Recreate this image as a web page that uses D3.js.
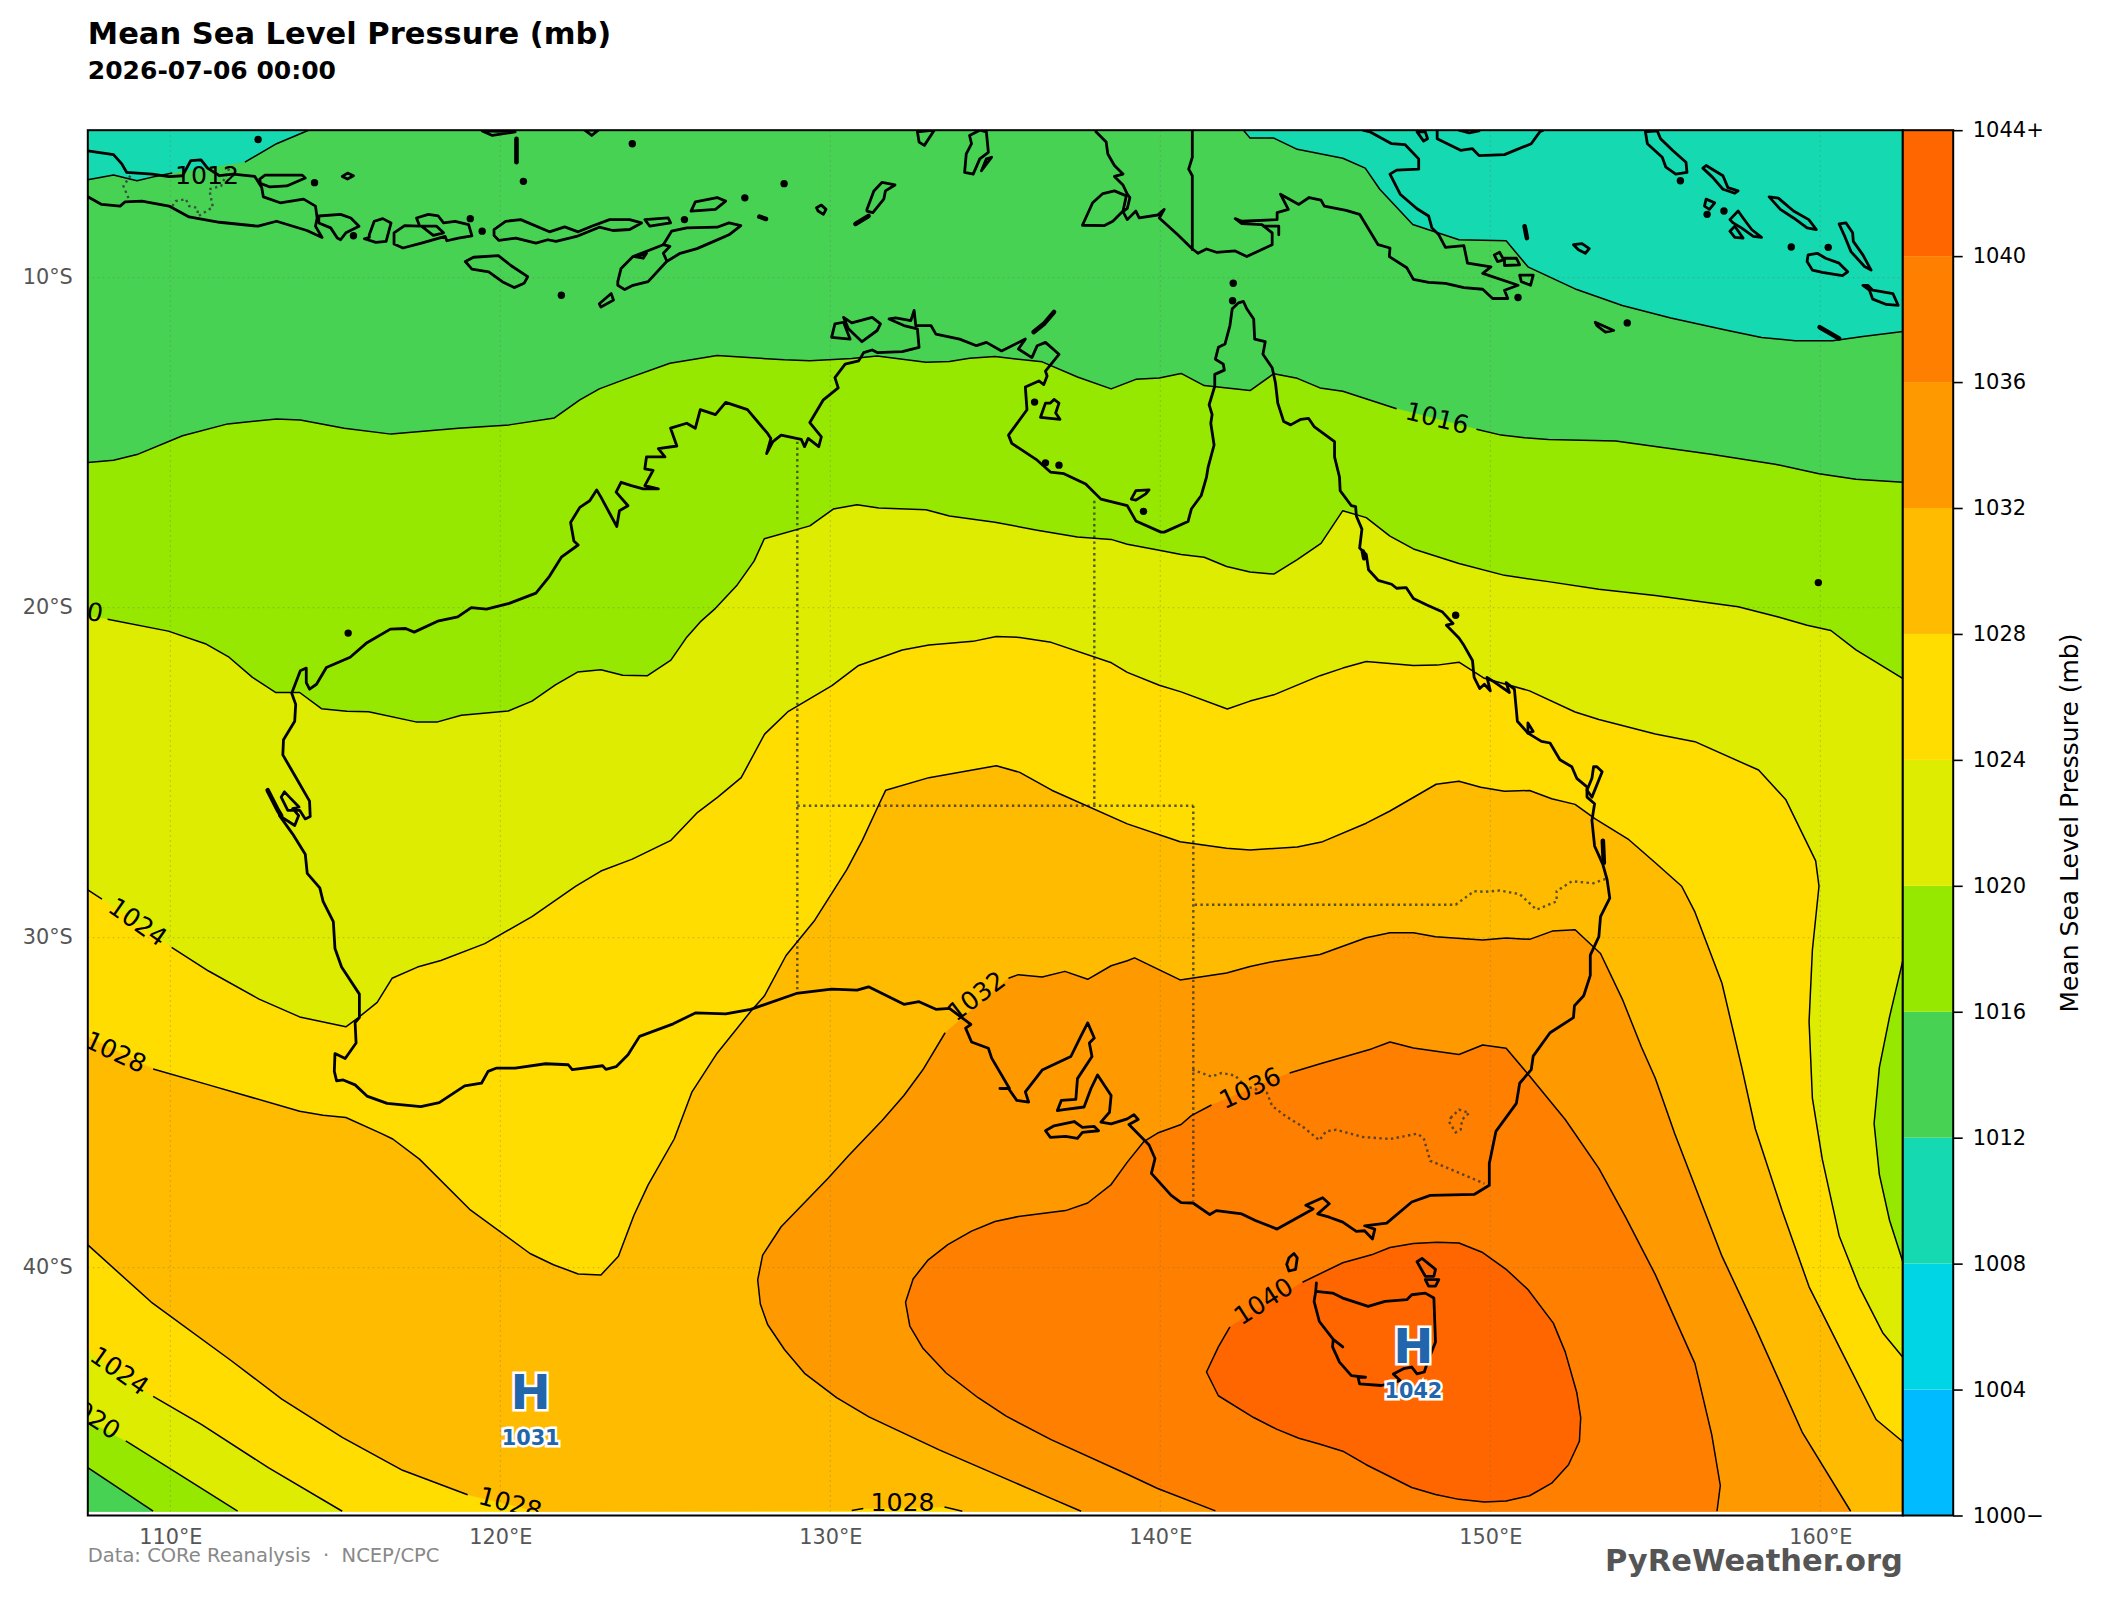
<!DOCTYPE html>
<html><head><meta charset="utf-8">
<script src="https://cdn.jsdelivr.net/npm/d3@7/dist/d3.min.js"></script>
<style>html,body{margin:0;padding:0;background:#fff}svg{display:block}text{font-family:"DejaVu Sans",sans-serif}</style>
</head><body><div id="chart"></div>
<script>
// ---------- colour bar ----------
const levels=[1000,1004,1008,1012,1016,1020,1024,1028,1032,1036,1040,1044];
const bandColors=["#00BBFF","#00D5E5","#15D9B0","#48D254","#96E800","#DDEC00","#FFDD00","#FFBB00","#FF9900","#FF7F00","#FF6600"];
const lonTicks=[110,120,130,140,150,160];
const latTicks=[-10,-20,-30,-40];
// ---------- isobars (lon,lat) ----------
const iso1012w1=[[107.5,-7.03],[108.28,-6.89],[108.99,-7.06],[109.55,-6.93],[110.06,-6.83]];
const iso1012w2=[[112.26,-6.50],[113.22,-5.94],[114.19,-5.53]];
const iso1012e=[[142.52,-5.53],[142.72,-5.77],[143.44,-5.77],[144.15,-6.11],[145.53,-6.38],[146.21,-6.68],[146.65,-7.32],[147.65,-8.39],[149.05,-8.85],[150.48,-8.88],[151.14,-9.67],[152.62,-10.36],[154.0,-10.84],[155.47,-11.22],[157.2,-11.60],[158.22,-11.81],[159.24,-11.91],[160.37,-11.91],[161.29,-11.78],[162.51,-11.63]];
const iso1016n1=[[107.5,-15.60],[108.28,-15.53],[108.99,-15.36],[110.37,-14.79],[111.74,-14.43],[113.22,-14.28],[113.94,-14.31],[115.27,-14.56],[116.69,-14.74],[118.73,-14.56],[120.27,-14.46],[121.64,-14.25],[122.41,-13.70],[123.0,-13.37],[123.77,-13.08],[125.14,-12.59],[126.57,-12.36],[128.61,-12.49],[129.38,-12.52],[130.65,-12.45],[131.42,-12.37],[132.9,-12.56],[133.61,-12.54],[134.22,-12.44],[134.99,-12.39],[136.42,-12.55],[137.49,-13.01],[138.51,-13.37],[139.26,-13.08],[139.97,-13.04],[140.63,-12.90],[141.33,-13.27],[142.72,-13.42],[143.44,-12.91],[144.15,-13.05],[144.84,-13.34],[145.53,-13.44],[147.16,-13.97]];
const iso1016n2=[[149.58,-14.59],[150.33,-14.77],[151.04,-14.85],[151.76,-14.90],[153.80,-14.95],[156.69,-15.35],[158.63,-15.65],[159.96,-15.94],[161.08,-16.11],[162.51,-16.20]];
const iso1016e=[[162.52,-30.61],[162.10,-32.39],[161.79,-33.93],[161.63,-35.63],[161.79,-37.18],[162.10,-38.57],[162.52,-39.88]];
const iso1016sw=[[107.5,-46.06],[109.48,-47.38]];
const iso1020n=[[108.10,-20.35],[109.94,-20.71],[111.06,-21.09],[111.78,-21.50],[112.49,-22.11],[113.20,-22.57],[113.92,-22.57],[114.58,-23.06],[115.35,-23.14],[116.01,-23.15],[117.44,-23.46],[118.10,-23.46],[118.82,-23.26],[120.24,-23.13],[120.96,-22.83],[121.67,-22.34],[122.34,-21.95],[123.05,-21.88],[123.71,-22.05],[124.46,-22.06],[125.17,-21.59],[125.63,-20.92],[126.06,-20.43],[126.52,-20.02],[127.18,-19.31],[127.69,-18.59],[128.0,-17.91],[129.38,-17.52],[130.09,-17.01],[130.81,-16.88],[131.47,-16.98],[132.90,-17.03],[133.61,-17.22],[134.99,-17.41],[136.27,-17.65],[137.49,-17.86],[138.51,-17.93],[139,-18.08],[139.97,-18.26],[140.63,-18.39],[141.33,-18.47],[142.01,-18.75],[142.72,-18.92],[143.44,-18.98],[144.15,-18.54],[144.87,-18.05],[145.53,-17.06],[146.24,-17.27],[146.96,-17.83],[147.67,-18.22],[149.05,-18.66],[150.43,-19.02],[151.76,-19.21],[153.29,-19.44],[155.0,-19.63],[157.51,-19.97],[158.73,-20.28],[159.60,-20.53],[160.32,-20.69],[161.08,-21.28],[162.52,-22.16]];
const iso1020sw=[[108.65,-45.25],[110.33,-46.30],[112.04,-47.38]];
const iso1024a=[[107.5,-28.55],[107.93,-28.83]];
const iso1024n=[[110.04,-30.29],[111.16,-31.01],[112.69,-31.86],[113.92,-32.40],[115.32,-32.70],[115.70,-32.42],[116.27,-31.96],[116.72,-31.23],[117.49,-30.89],[118.20,-30.69],[119.53,-30.18],[120.96,-29.36],[122.29,-28.44],[123.05,-27.98],[124,-27.62],[125.17,-27.05],[125.98,-26.20],[126.59,-25.74],[127.30,-25.15],[128.01,-23.83],[128.73,-23.14],[130.05,-22.36],[130.86,-21.75],[132.18,-21.28],[132.99,-21.13],[134.32,-21.02],[135.03,-20.87],[135.74,-20.90],[136.69,-21.05],[138.52,-21.67],[139,-21.96],[139.97,-22.35],[140.63,-22.55],[142.03,-23.07],[142.72,-22.83],[143.44,-22.64],[144.84,-22.06],[145.53,-21.83],[146.24,-21.63],[147.67,-21.75],[148.39,-21.74],[149.05,-21.65],[149.82,-22.14],[151.19,-22.52],[152.57,-23.16],[153.29,-23.39],[155,-23.83],[156.2,-24.06],[158.13,-24.92],[158.95,-25.81],[159.86,-27.67],[159.96,-28.44],[159.76,-30.38],[159.66,-32.54],[159.76,-34.86],[160.06,-36.71],[160.57,-39.03],[161.18,-40.58],[161.89,-41.97],[162.52,-42.74]];
const iso1024sw=[[109.48,-43.90],[110.94,-44.75],[112.97,-46.06],[115.21,-47.38]];
const iso1028n=[[109.48,-33.98],[111.16,-34.46],[113.92,-35.26],[114.63,-35.38],[115.32,-35.45],[116.37,-35.92],[116.74,-36.10],[117.55,-36.71],[119.07,-38.23],[120.9,-39.57],[121.61,-39.91],[122.36,-40.19],[123.05,-40.22],[123.58,-39.65],[124.05,-38.41],[124.48,-37.49],[125.27,-36.10],[125.81,-34.67],[126.57,-33.50],[127.59,-32.23],[128,-31.77],[128.66,-30.54],[129.53,-29.47],[130.5,-27.94],[130.97,-27.05],[131.47,-25.97],[131.68,-25.53],[132.99,-25.15],[135.03,-24.79],[135.74,-24.99],[136.71,-25.53],[139,-26.55],[140.60,-27.09],[142.01,-27.29],[142.72,-27.34],[144.15,-27.25],[144.92,-27.09],[146.24,-26.53],[146.96,-26.16],[148.36,-25.35],[149.05,-25.26],[149.71,-25.44],[150.43,-25.56],[151.19,-25.54],[151.86,-25.79],[152.57,-25.96],[153.18,-26.40],[154.2,-27.03],[155,-27.73],[155.8,-28.44],[156.2,-29.22],[157.02,-31.38],[157.62,-33.93],[158.03,-35.79],[158.84,-38.26],[159.66,-40.58],[160.67,-42.59],[161.69,-44.60],[162.52,-45.29]];
const iso1028sw=[[107.5,-39.31],[109.42,-41.04],[111.85,-42.82],[113.38,-43.98],[115.21,-45.14],[117.04,-46.14],[119.01,-46.88]];
const iso1028b1=[[130.65,-47.36],[131,-47.30]];
const iso1028b2=[[133.46,-47.25],[134,-47.38]];
const iso1032e=[[135.4,-31.23],[135.70,-31.12],[136.42,-31.19],[137.11,-31.02],[137.80,-31.26],[138.51,-30.85],[139,-30.70],[139.22,-30.61],[140.60,-31.28],[142.01,-31.07],[142.72,-30.87],[143.44,-30.72],[144.84,-30.51],[146.24,-30.0],[146.96,-29.85],[147.67,-29.85],[148.34,-29.97],[149.77,-30.07],[150.48,-30.01],[151.19,-30.05],[151.88,-29.80],[152.57,-29.76],[153.34,-30.48],[154,-31.86],[154.58,-33.31],[155,-34.26],[155.59,-35.94],[157.02,-39.65],[158.03,-41.81],[159.45,-44.98],[160.92,-47.38]];
const iso1032w=[[133.48,-32.88],[132.80,-34.01],[132.23,-34.78],[131.57,-35.54],[130.55,-36.61],[129.94,-37.28],[128.51,-38.76],[127.95,-39.62],[127.80,-40.37],[127.88,-41.10],[128.10,-41.72],[128.61,-42.48],[129.22,-43.20],[130.19,-43.94],[131.17,-44.52],[133.30,-45.52],[136.69,-46.99],[137.6,-47.38]];
const iso1036e=[[143.92,-34.10],[144.82,-33.83],[146.40,-33.37],[146.96,-33.16],[147.67,-33.34],[149.05,-33.54],[149.77,-33.25],[150.48,-33.35],[151.14,-34.13],[152.27,-35.51],[153.29,-36.99],[154.10,-38.47],[155,-40.21],[156.2,-42.90],[156.71,-45.06],[156.97,-46.60],[156.87,-47.38]];
const iso1036w=[[141.55,-35.07],[140.94,-35.39],[140.63,-35.66],[139.92,-35.92],[139.51,-36.17],[139,-36.80],[138.51,-37.48],[137.80,-38.04],[137.13,-38.27],[135.70,-38.45],[134.99,-38.60],[134.28,-38.89],[133.56,-39.30],[132.95,-39.78],[132.51,-40.34],[132.28,-41.05],[132.41,-41.77],[132.80,-42.43],[133.51,-43.19],[134.48,-43.94],[135.33,-44.50],[136.69,-45.21],[139,-46.26],[139.92,-46.69],[141.67,-47.37]];
const iso1040=[[144.31,-40.44],[145.53,-39.85],[146.40,-39.61],[146.96,-39.39],[147.67,-39.27],[148.39,-39.23],[149.05,-39.25],[149.77,-39.54],[150.48,-40.05],[151.14,-40.66],[151.91,-41.68],[152.27,-42.55],[152.62,-43.78],[152.74,-44.54],[152.70,-45.26],[152.37,-45.97],[151.86,-46.53],[151.19,-46.91],[150.48,-47.07],[149.82,-47.10],[149.05,-47.02],[148.34,-46.87],[147.62,-46.66],[146.24,-45.97],[145.53,-45.56],[144.82,-45.34],[144.20,-45.17],[143.54,-44.90],[142.83,-44.54],[141.76,-43.88],[141.40,-43.16],[141.76,-42.40],[142.11,-41.79]];
// ---------- isobar labels: lon, lat, rotation, text ----------
const isoLabels=[[111.11,-6.91,0,"1012"],[148.39,-14.26,14,"1016"],[107.0,-20.02,10,"1020"],[109.01,-29.53,35,"1024"],[108.34,-33.47,25,"1028"],[108.46,-43.13,35,"1024"],[107.59,-44.49,33,"1020"],[120.3,-47.15,15,"1028"],[132.19,-47.1,0,"1028"],[134.43,-31.77,-37,"1032"],[142.72,-34.56,-25,"1036"],[143.13,-41.02,-33,"1040"]];
// ---------- high centres ----------
const highLon=[120.92,147.67],highLat=[-43.77,-42.37],highValue=[1031,1042];
// ---------- coast ----------
const australia=[[140.12,-17.71],[140.84,-17.39],[140.94,-17.01],[141.24,-16.60],[141.40,-16.04],[141.45,-15.74],[141.63,-15.07],[141.53,-14.41],[141.57,-14.15],[141.48,-13.85],[141.65,-13.29],[141.65,-12.93],[141.94,-12.80],[141.91,-12.62],[141.67,-12.47],[141.76,-12.11],[141.96,-12.01],[142.11,-11.45],[142.18,-10.94],[142.37,-10.76],[142.52,-10.72],[142.62,-10.94],[142.83,-11.25],[142.86,-11.86],[143.18,-11.94],[143.11,-12.32],[143.39,-12.73],[143.49,-13.19],[143.56,-13.80],[143.74,-14.36],[143.95,-14.46],[144.26,-14.29],[144.49,-14.26],[144.66,-14.51],[145.28,-14.97],[145.28,-15.43],[145.43,-16.04],[145.45,-16.45],[145.79,-16.91],[145.92,-16.94],[145.94,-17.22],[146.11,-17.62],[146.04,-18.19],[146.24,-18.39],[146.31,-18.85],[146.60,-19.17],[147.01,-19.29],[147.16,-19.41],[147.45,-19.39],[147.67,-19.72],[148.08,-19.92],[148.54,-20.12],[148.87,-20.48],[148.67,-20.53],[149.05,-20.92],[149.20,-21.14],[149.46,-21.60],[149.51,-22.11],[149.68,-22.45],[149.82,-22.32],[150,-22.52],[149.90,-22.11],[150.07,-22.22],[150.58,-22.57],[150.48,-22.27],[150.73,-22.47],[150.82,-23.44],[151.14,-23.80],[151.55,-24.05],[151.81,-24.10],[152.11,-24.61],[152.47,-24.82],[152.62,-25.17],[152.93,-25.43],[152.93,-25.74],[153.16,-25.94],[153.08,-26.45],[153.16,-27.22],[153.41,-27.78],[153.54,-28.24],[153.62,-28.80],[153.34,-29.36],[153.29,-29.97],[153.03,-30.53],[153.03,-31.14],[152.83,-31.76],[152.55,-32.06],[152.52,-32.42],[151.81,-32.88],[151.30,-33.59],[151.24,-34.0],[150.89,-34.41],[150.79,-35.02],[150.17,-35.87],[149.97,-36.84],[149.97,-37.50],[149.51,-37.78],[148.18,-37.81],[147.62,-38.01],[146.86,-38.65],[146.19,-38.73],[146.5,-38.83],[146.43,-39.13],[146.19,-38.88],[145.94,-38.90],[145.53,-38.62],[145.12,-38.47],[144.77,-38.37],[145.12,-38.06],[144.92,-37.88],[144.41,-38.11],[144.63,-38.22],[143.54,-38.83],[142.88,-38.57],[142.47,-38.37],[141.70,-38.27],[141.5,-38.39],[140.99,-38.04],[140.63,-38.03],[140.33,-37.81],[139.73,-37.14],[139.84,-36.69],[139.66,-36.28],[139.05,-35.66],[139.33,-35.51],[139.2,-35.36],[139,-35.49],[138.51,-35.64],[138.20,-35.59],[138.46,-35.29],[138.51,-34.78],[138.10,-34.16],[137.90,-34.57],[137.69,-35.13],[137.08,-35.21],[136.88,-35.24],[137.0,-34.93],[137.44,-34.90],[137.49,-34.27],[137.93,-33.60],[137.85,-33.19],[138,-33.04],[137.80,-32.58],[137.59,-32.99],[137.29,-33.60],[136.42,-34.01],[135.91,-34.67],[136.01,-34.98],[135.65,-34.93],[135.40,-34.57],[135.14,-34.57],[135.43,-34.57],[134.89,-33.65],[134.79,-33.35],[134.28,-33.16],[134.10,-32.74],[134.26,-32.63],[133.61,-32.14],[133.20,-32.17],[132.69,-31.94],[132.23,-32.02],[131.16,-31.49],[130.81,-31.59],[130.04,-31.56],[128.97,-31.69],[127.59,-32.17],[126.83,-32.31],[125.91,-32.28],[125.24,-32.61],[124.22,-32.99],[123.87,-33.55],[123.51,-33.91],[123.20,-33.99],[123.10,-33.88],[122.18,-34.0],[122.06,-33.85],[121.37,-33.82],[120.45,-33.95],[119.89,-33.95],[119.63,-34.05],[119.43,-34.41],[118.92,-34.49],[118.15,-35.0],[117.59,-35.12],[116.57,-35.02],[115.96,-34.80],[115.60,-34.46],[115.24,-34.31],[115.04,-34.34],[114.97,-34.05],[114.99,-33.51],[115.30,-33.66],[115.63,-33.19],[115.60,-32.57],[115.73,-32.42],[115.73,-31.71],[115.19,-30.89],[114.99,-30.33],[114.94,-29.51],[114.63,-28.90],[114.53,-28.49],[114.15,-28.05],[114.09,-27.47],[113.71,-26.86],[113.31,-26.30],[113.77,-26.60],[113.89,-26.30],[113.71,-26.09],[113.90,-26.04],[113.61,-25.74],[113.46,-25.58],[113.36,-25.74],[113.56,-26.14],[113.92,-26.14],[114.09,-26.40],[114.24,-26.33],[114.22,-25.86],[113.82,-25.17],[113.41,-24.46],[113.43,-24.0],[113.77,-23.44],[113.80,-22.93],[113.68,-22.59],[113.94,-21.91],[114.12,-21.83],[114.12,-22.27],[114.22,-22.47],[114.43,-22.32],[114.73,-21.81],[115.45,-21.50],[115.96,-21.06],[116.67,-20.65],[117.13,-20.63],[117.39,-20.74],[118.10,-20.41],[118.71,-20.28],[119.12,-20.0],[119.58,-20.04],[120.27,-19.87],[121.08,-19.56],[121.49,-19.05],[121.85,-18.47],[122.36,-18.10],[122.23,-17.98],[122.13,-17.42],[122.41,-16.96],[122.71,-16.76],[122.92,-16.43],[123.05,-16.65],[123.53,-17.54],[123.61,-17.06],[123.87,-16.91],[123.51,-16.50],[123.66,-16.20],[123.97,-16.30],[124.33,-16.40],[124.79,-16.40],[124.38,-16.30],[124.63,-15.84],[124.38,-15.79],[124.43,-15.43],[124.99,-15.43],[124.79,-15.18],[125.35,-15.10],[125.16,-14.56],[125.65,-14.41],[125.91,-14.56],[126.06,-14.0],[126.52,-14.15],[126.83,-13.78],[127.49,-14.0],[128.10,-14.72],[128.20,-14.87],[128.07,-15.33],[128.26,-14.97],[128.51,-14.77],[129.12,-14.90],[129.22,-15.12],[129.33,-14.87],[129.65,-15.12],[129.73,-14.82],[129.38,-14.39],[129.79,-13.70],[130.24,-13.34],[130.14,-13.03],[130.45,-12.62],[130.86,-12.52],[131.01,-12.27],[131.27,-12.19],[131.42,-12.27],[132.18,-12.24],[132.69,-12.11],[132.64,-11.55],[132.23,-11.45],[131.78,-11.25],[131.98,-11.22],[132.44,-11.30],[132.54,-10.99],[132.59,-11.45],[133.05,-11.45],[133.20,-11.71],[133.92,-11.86],[134.43,-12.06],[134.73,-11.96],[135.19,-12.22],[135.91,-11.86],[135.70,-12.16],[136.11,-12.42],[136.27,-12.06],[136.52,-11.96],[136.93,-12.32],[136.52,-12.83],[136.57,-12.98],[136.47,-13.24],[136.32,-13.13],[135.91,-13.31],[135.96,-14.0],[135.40,-14.77],[135.50,-15.02],[136.27,-15.53],[136.67,-15.89],[137.08,-15.94],[137.74,-16.25],[138.20,-16.71],[139,-16.91],[139.26,-17.37],[140.02,-17.71],[140.12,-17.71]];
const tasmania=[[144.73,-40.46],[144.71,-40.72],[145.22,-40.77],[145.53,-40.92],[146.30,-41.17],[146.81,-41.02],[147.47,-40.97],[147.62,-40.82],[148.03,-40.77],[148.29,-40.92],[148.34,-42.25],[148.08,-42.91],[148,-43.16],[147.78,-43.22],[147.62,-43.01],[147.37,-43.06],[147.06,-43.22],[147.27,-43.42],[146.70,-43.57],[146.04,-43.52],[145.99,-43.32],[146.22,-43.32],[145.79,-43.27],[145.43,-42.86],[145.22,-42.40],[145.24,-42.17],[145.53,-42.40],[145.24,-42.17],[144.82,-41.63],[144.66,-41.02],[144.71,-40.72]];
const java=[[107.5,-6.16],[108.28,-6.27],[108.53,-6.55],[108.68,-6.81],[109.45,-6.86],[109.96,-6.94],[110.37,-6.91],[110.62,-6.45],[110.93,-6.43],[111.13,-6.68],[111.49,-6.91],[111.90,-6.86],[112.56,-6.93],[112.77,-7.27],[112.82,-7.55],[113.33,-7.73],[114.04,-7.62],[114.40,-7.83],[114.45,-8.19],[114.40,-8.44],[114.60,-8.78],[114.14,-8.57],[113.22,-8.29],[112.66,-8.44],[111.49,-8.32],[110.57,-8.16],[109.96,-7.83],[109.14,-7.68],[108.63,-7.70],[108.48,-7.83],[107.92,-7.78],[107.5,-7.55]];
const newGuinea=[[138.05,-5.58],[138.36,-5.89],[138.41,-6.25],[138.61,-6.60],[138.87,-6.86],[138.61,-6.93],[138.87,-7.19],[139,-7.47],[139.08,-7.57],[139,-7.9],[138.87,-8.0],[139,-8.24],[139.26,-7.98],[139.36,-8.19],[139.92,-8.10],[140.12,-7.93],[139.97,-8.19],[140.53,-8.70],[140.94,-9.10],[141.14,-9.26],[141.40,-9.13],[141.70,-9.23],[142.27,-9.19],[142.62,-9.36],[143.39,-9.0],[143.39,-8.64],[143.08,-8.39],[142.47,-8.36],[142.27,-8.21],[142.47,-8.29],[143.54,-8.24],[143.54,-8.03],[143.88,-7.93],[143.64,-7.47],[144.20,-7.78],[144.51,-7.57],[144.87,-7.65],[144.97,-7.83],[145.63,-7.96],[146.04,-8.08],[146.60,-9.0],[146.96,-9.10],[146.94,-9.36],[147.47,-9.70],[147.67,-10.05],[148.13,-10.14],[148.64,-10.17],[149.20,-10.30],[149.77,-10.35],[150.07,-10.63],[150.53,-10.63],[150.43,-10.38],[150.84,-10.23],[149.77,-9.87],[150.02,-9.67],[149.31,-9.56],[149.20,-9.03],[148.64,-9.08],[148.44,-8.70],[148.23,-8.49],[148.13,-8.13],[147.78,-7.91],[147.27,-7.47],[146.96,-6.86],[147.16,-6.74],[147.83,-6.71],[147.83,-6.40],[147.42,-5.97],[147.01,-5.94],[146.35,-5.58],[146.14,-5.53]];
const newBritain=[[148.39,-5.55],[148.39,-5.79],[149.10,-6.14],[149.46,-6.09],[149.66,-6.30],[150.43,-6.27],[151.24,-5.94],[151.5,-5.58],[151.6,-5.53]];
const border141=[[140.97,-5.53],[140.97,-6.35],[140.86,-6.71],[140.97,-6.91],[140.97,-9.15]];
const timorBorder=[[124.94,-9.0],[125.14,-9.05],[124.94,-9.26],[125.04,-9.48]];
const openCoast=[java,newGuinea,newBritain,border141,timorBorder,
 [[149.05,-5.53],[149.36,-5.61],[149.66,-5.55]],
 [[143.13,-8.44],[143.59,-8.44],[143.59,-8.70]]];
const madura=[[112.71,-7.01],[112.87,-6.89],[113.99,-6.89],[114.09,-6.98],[113.53,-7.22],[113.02,-7.25],[112.73,-7.14]];
const bali=[[114.5,-8.13],[115.16,-8.08],[115.47,-8.19],[115.72,-8.44],[115.32,-8.64],[115.16,-8.85],[115.06,-8.80],[114.86,-8.49],[114.5,-8.34]];
const lombok=[[116.03,-8.70],[116.18,-8.29],[116.44,-8.21],[116.69,-8.34],[116.54,-8.90],[116.23,-8.93],[115.88,-8.82],[116.03,-8.78]];
const sumbawa=[[116.78,-8.64],[117.10,-8.42],[117.56,-8.44],[117.46,-8.19],[117.82,-8.08],[118.12,-8.13],[118.28,-8.34],[118.63,-8.29],[119.04,-8.39],[119.14,-8.73],[118.73,-8.80],[118.38,-8.88],[118.33,-8.75],[117.61,-8.95],[117.05,-9.10],[116.78,-8.98]];
const flores=[[119.81,-8.54],[120.16,-8.29],[120.62,-8.24],[121.49,-8.61],[121.95,-8.46],[122.36,-8.61],[122.77,-8.44],[123.31,-8.24],[123.92,-8.24],[124.28,-8.34],[123.92,-8.54],[123.41,-8.57],[123,-8.47],[122.31,-8.75],[121.69,-8.90],[121.44,-8.85],[121.08,-8.95],[120.47,-8.80],[119.96,-8.87],[119.81,-8.72]];
const timor=[[123.56,-10.12],[123.66,-9.72],[124.02,-9.36],[124.94,-9.0],[125.19,-8.59],[125.65,-8.49],[126.57,-8.47],[126.93,-8.34],[127.29,-8.42],[126.93,-8.70],[126.47,-8.90],[125.96,-9.12],[125.45,-9.26],[125.04,-9.51],[124.48,-10.12],[124.02,-10.23],[123.77,-10.36],[123.56,-10.23]];
const sumba=[[118.94,-9.51],[119.19,-9.38],[119.94,-9.33],[120.32,-9.63],[120.83,-9.97],[120.72,-10.17],[120.42,-10.30],[120.06,-10.12],[119.65,-9.82],[119.14,-9.74]];
const kangaroo=[[136.52,-35.85],[136.78,-35.70],[137.39,-35.57],[137.64,-35.75],[138,-35.72],[138.13,-35.85],[137.64,-35.90],[137.49,-36.08],[137.13,-36.02],[136.67,-36.05]];
const islands=[madura,bali,lombok,sumbawa,flores,timor,sumba,kangaroo,
 [[117.61,-8.44],[117.97,-8.72],[118.28,-8.64],[118.07,-8.44]],
 [[124.38,-8.24],[125.09,-8.19],[125.16,-8.34],[124.53,-8.44]],
 [[125.78,-7.98],[125.91,-7.70],[126.57,-7.57],[126.83,-7.68],[126.52,-7.93]],
 [[124.07,-9.36],[124.43,-9.26],[124.33,-9.41]],
 [[123,-10.79],[123.36,-10.48],[123.43,-10.68],[123.05,-10.89]],
 [[115.21,-6.93],[115.37,-6.83],[115.55,-6.91],[115.37,-7.01]],
 [[129.58,-7.88],[129.73,-7.80],[129.87,-7.93],[129.79,-8.08],[129.63,-7.98]],
 [[119.45,-5.55],[119.76,-5.69],[120.45,-5.58]],
 [[122.56,-5.53],[122.77,-5.69],[122.97,-5.53]],
 [[131.11,-7.93],[131.32,-7.37],[131.57,-7.11],[131.96,-7.19],[131.67,-7.37],[131.62,-7.62],[131.29,-8.03],[131.11,-7.98]],
 [[132.64,-5.58],[132.69,-5.89],[132.85,-5.99],[133.15,-5.53]],
 [[134.22,-5.69],[134.53,-5.53],[134.73,-5.58],[134.79,-6.20],[134.53,-6.40],[134.33,-6.86],[134.07,-6.81],[134.12,-6.25],[134.28,-5.94]],
 [[134.58,-6.76],[134.73,-6.40],[134.89,-6.35]],
 [[137.64,-8.41],[137.95,-7.73],[138.26,-7.45],[138.61,-7.37],[138.97,-7.52],[138.87,-7.98],[138.56,-8.29],[138.31,-8.42]],
 [[147.78,-5.58],[147.98,-5.86],[148.10,-5.79],[148.03,-5.58]],
 [[150.12,-9.31],[150.28,-9.23],[150.41,-9.46],[150.22,-9.51]],
 [[150.43,-9.41],[150.79,-9.41],[150.89,-9.61],[150.43,-9.63]],
 [[150.89,-9.92],[151.30,-9.92],[151.22,-10.23],[150.94,-10.12]],
 [[152.52,-9.0],[152.78,-8.97],[153,-9.12],[152.88,-9.26],[152.67,-9.15]],
 [[153.18,-11.35],[153.74,-11.60],[153.49,-11.65],[153.23,-11.45]],
 [[130.40,-11.20],[130.65,-11.37],[131.27,-11.20],[131.52,-11.40],[131.42,-11.60],[130.96,-11.94],[130.55,-11.55]],
 [[130.40,-11.35],[130.14,-11.40],[130.04,-11.81],[130.60,-11.86]],
 [[136.37,-14.23],[136.52,-13.80],[136.67,-13.80],[136.78,-13.69],[136.93,-13.80],[136.83,-14.10],[136.96,-14.29]],
 [[139.12,-16.71],[139.26,-16.45],[139.66,-16.43],[139.56,-16.55],[139.26,-16.74]],
 [[153.23,-24.82],[153.39,-24.97],[153.08,-25.74],[152.93,-25.53],[153.08,-25.17],[153.13,-24.82]],
 [[151.14,-23.49],[151.30,-23.75],[151.14,-23.80]],
 [[143.90,-39.70],[144.05,-39.57],[144.15,-39.70],[144.10,-40.05],[143.90,-40.10],[143.83,-39.90]],
 [[147.78,-39.82],[147.93,-39.72],[148.34,-40.05],[148.29,-40.26],[148.03,-40.26]],
 [[148.03,-40.36],[148.44,-40.36],[148.34,-40.56],[148.13,-40.56]],
 [[154.70,-5.58],[154.76,-5.94],[155.21,-6.35],[155.32,-6.65],[155.62,-6.86],[155.96,-6.81],[155.93,-6.50],[155.52,-6.14],[155.16,-5.79],[155.06,-5.55]],
 [[156.44,-6.68],[156.54,-6.60],[157.05,-6.91],[157.2,-7.27],[157.51,-7.37],[157.41,-7.44],[157.05,-7.32],[156.74,-6.96]],
 [[158.45,-7.55],[158.73,-7.59],[159.19,-7.98],[159.65,-8.24],[159.88,-8.54],[159.60,-8.49],[159.19,-8.19],[158.79,-7.93]],
 [[160.57,-8.37],[160.78,-8.34],[160.98,-8.64],[161,-8.90],[161.29,-9.31],[161.54,-9.77],[161.34,-9.66],[160.93,-9.21],[160.72,-8.70]],
 [[159.63,-9.31],[159.91,-9.26],[160.16,-9.41],[160.57,-9.56],[160.83,-9.82],[160.67,-9.94],[160.06,-9.84],[159.76,-9.77],[159.60,-9.51]],
 [[161.29,-10.23],[161.44,-10.23],[161.59,-10.38],[162.20,-10.48],[162.36,-10.84],[162,-10.81],[161.59,-10.65],[161.49,-10.38]],
 [[156.54,-7.62],[156.80,-7.73],[156.64,-7.93],[156.49,-7.83]],
 [[157.26,-8.24],[157.51,-7.98],[157.66,-8.19],[157.92,-8.54],[158.22,-8.78],[157.97,-8.75],[157.61,-8.49],[157.36,-8.34]],
 [[157.26,-8.59],[157.41,-8.44],[157.66,-8.80],[157.41,-8.78]]];
const thickCoast=[[[120.49,-5.79],[120.49,-6.50]],[[130.76,-8.37],[131.16,-8.13]],[[136.16,-11.65],[136.47,-11.40],[136.78,-11.04]],[[112.95,-25.53],[113.26,-26.14],[113.36,-26.30]],[[151.04,-8.44],[151.11,-8.80]],[[159.98,-11.50],[160.57,-11.84]],[[153.41,-27.06],[153.44,-27.73]],[[146.14,-18.30],[146.18,-18.50]],[[127.85,-8.15],[128.05,-8.22]]];
const dotIslands=[[112.66,-5.81],[114.37,-7.12],[115.55,-8.73],[119.09,-8.21],[119.45,-8.59],[120.70,-7.08],[115.39,-20.77],[121.85,-10.53],[124,-5.94],[128.60,-7.15],[127.41,-7.58],[125.58,-8.24],[136.19,-13.77],[136.52,-15.61],[136.93,-15.68],[139.49,-17.08],[142.21,-10.17],[142.19,-10.70],[148.95,-20.23],[150.84,-10.60],[154.15,-11.37],[155.76,-7.06],[157.08,-7.98],[156.57,-8.08],[159.12,-9.07],[160.24,-9.08],[159.94,-19.24]];
// ---------- state borders ----------
const borderWA=[[129,-14.97],[129,-31.61]];
const borderNT=[[138,-16.76],[138,-26]];
const borderSAn=[[129,-26],[141,-26]];
const borderSAe=[[141,-26],[141,-37.96]];
const borderNSWn=[[141.04,-29],[148.95,-29],[149.51,-28.59],[149.82,-28.61],[150.28,-28.57],[150.89,-28.68],[151.40,-29.15],[152.01,-28.90],[152.01,-28.59],[152.47,-28.29],[153.13,-28.35],[153.49,-28.22]];
const borderVic=[[140.97,-34.0],[141.55,-34.21],[141.86,-34.10],[142.27,-34.18],[142.57,-34.49],[143.23,-34.70],[143.39,-35.10],[143.80,-35.41],[144.31,-35.72],[144.82,-36.14],[145.02,-35.87],[145.33,-35.82],[146.14,-36.04],[146.96,-36.10],[147.78,-35.94],[147.98,-36.07],[148.18,-36.76],[149.82,-37.45]];
const borderACT=[[148.80,-35.46],[149.05,-35.21],[149.36,-35.31],[149.15,-35.51],[149.10,-35.82],[148.95,-35.90],[148.74,-35.56],[148.80,-35.46]];
const borderJava1=[[108.79,-6.91],[108.58,-7.22],[108.73,-7.59]];
const borderJava2=[[110.06,-7.83],[110.16,-7.68],[110.47,-7.62],[110.57,-7.83],[110.80,-7.88],[110.86,-8.13],[111.29,-7.86],[111.18,-7.32],[111.54,-7.22],[111.80,-6.65]];
const stateBorders=[borderWA,borderNT,borderSAn,borderSAe,borderNSWn,borderVic,borderACT,borderJava1,borderJava2];

// ---------- drawing ----------
const W=107.5,E=162.5,N=-5.53,S=-47.4;
const x=d3.scaleLinear().domain([110,160]).range([170.3,1820.3]);
const y=d3.scaleLinear().domain([-10,-40]).range([277.7,1267.7]);
const plot={l:x(W),r:x(E),t:y(N),b:1515.5};
const cb=d3.scaleLinear().domain([1000,1044]).range([plot.b,plot.t]);
const svg=d3.select("#chart").append("svg").attr("width",2102).attr("height",1597).attr("viewBox","0 0 2102 1597");
svg.append("defs").append("clipPath").attr("id","plotclip").append("rect").attr("x",plot.l).attr("y",plot.t).attr("width",plot.r-plot.l).attr("height",plot.b-plot.t);
const g=svg.append("g").attr("clip-path","url(#plotclip)");
const line=d3.line().x(d=>x(d[0])).y(d=>y(d[1]));
const rev=a=>a.slice().reverse();
const colorOf=l=>bandColors[levels.indexOf(l)];
// filled regions: area above each level, painted in ascending order
const regions=[
 [1008,[[W,N],[E,N],[E,S],[W,S]]],
 [1012,[...iso1012w1,...iso1012w2,...iso1012e,[E,S],[W,S]]],
 [1016,[...iso1016n1,...iso1016n2,[E,S],[iso1016sw[1][0],S],...rev(iso1016sw)]],
 [1020,[[W,-20.26],...iso1020n,...iso1016e,[E,S],[iso1020sw[2][0],S],...rev(iso1020sw),[W,-44.63]]],
 [1024,[...iso1024a,...iso1024n,[E,S],[iso1024sw[3][0],S],...rev(iso1024sw),[W,-42.51]]],
 [1028,[[W,-33.0],...iso1028n,[E,S],[134,S],...rev(iso1028b2),...rev(iso1028b1),[121.2,S],...rev(iso1028sw)]],
 [1032,[...iso1032e,[160.92,S],[137.6,S],...rev(iso1032w)]],
 [1036,[...iso1036e,[156.87,S],[141.67,S],...rev(iso1036w)]],
 [1040,iso1040]
];
g.selectAll("path.band").data(regions).join("path").attr("class","band")
 .attr("d",d=>line(d[1])+"Z").attr("fill",d=>colorOf(d[0])).attr("stroke",d=>colorOf(d[0])).attr("stroke-width",0.4);
// white strip under the filled field
svg.append("rect").attr("x",plot.l).attr("y",y(S)).attr("width",plot.r-plot.l).attr("height",plot.b-y(S)).attr("fill","#fff");
// graticule
const grid=g.append("g").attr("stroke","#666").attr("stroke-opacity",0.4).attr("stroke-width",1).attr("stroke-dasharray","1.5 3.5").attr("fill","none");
grid.selectAll("path.v").data(lonTicks).join("path").attr("class","v").attr("d",d=>line([[d,N],[d,-47.5]]));
grid.selectAll("path.h").data(latTicks).join("path").attr("class","h").attr("d",d=>line([[W,d],[E,d]]));
// state borders
g.append("g").attr("fill","none").attr("stroke","#333").attr("stroke-opacity",0.8).attr("stroke-width",2.4).attr("stroke-dasharray","2.4 3.4")
 .selectAll("path").data(stateBorders).join("path").attr("d",line);
// isobars
const isoLines=[iso1012w1,iso1012w2,iso1012e,iso1016n1,iso1016n2,iso1016e,iso1016sw,iso1020n,iso1020sw,iso1024a,iso1024n,iso1024sw,iso1028n,iso1028sw,iso1028b1,iso1028b2,iso1032e,iso1032w,iso1036e,iso1036w,iso1040];
g.append("g").attr("fill","none").attr("stroke","#000").attr("stroke-width",1.5).attr("stroke-linejoin","round")
 .selectAll("path").data(isoLines).join("path").attr("d",line);
// coast
const coast=g.append("g").attr("fill","none").attr("stroke","#000").attr("stroke-width",2.8).attr("stroke-linejoin","round").attr("stroke-linecap","round");
coast.selectAll("path.c").data([australia,tasmania,...islands]).join("path").attr("class","c").attr("d",d=>line(d)+"Z");
coast.selectAll("path.o").data(openCoast).join("path").attr("class","o").attr("d",line);
coast.selectAll("path.t").data(thickCoast).join("path").attr("class","t").attr("stroke-width",4.6).attr("d",line);
g.selectAll("circle.isl").data(dotIslands).join("circle").attr("class","isl").attr("cx",d=>x(d[0])).attr("cy",d=>y(d[1])).attr("r",3.7).attr("fill","#000");
// isobar labels
g.selectAll("text.iso").data(isoLabels).join("text").attr("class","iso")
 .attr("transform",d=>`translate(${x(d[0])},${y(d[1])}) rotate(${d[2]})`)
 .attr("text-anchor","middle").attr("dominant-baseline","central").attr("font-size",25.2).attr("fill","#000").text(d=>d[3]);
// high markers
const highs=svg.append("g").selectAll("g").data(d3.range(highLon.length)).join("g");
highs.append("text").attr("x",i=>x(highLon[i])).attr("y",i=>y(highLat[i])).attr("text-anchor","middle").attr("dominant-baseline","central")
 .attr("font-size",48).attr("font-weight","bold").attr("fill","#2166AC").attr("stroke","#fff").attr("stroke-width",5).attr("paint-order","stroke").text("H");
highs.append("text").attr("x",i=>x(highLon[i])).attr("y",i=>y(highLat[i])+45.5).attr("text-anchor","middle").attr("dominant-baseline","central")
 .attr("font-size",20.8).attr("font-weight","bold").attr("fill","#2166AC").attr("stroke","#fff").attr("stroke-width",5).attr("paint-order","stroke").text(i=>highValue[i]);
// frame
svg.append("rect").attr("x",plot.l).attr("y",plot.t).attr("width",plot.r-plot.l).attr("height",plot.b-plot.t).attr("fill","none").attr("stroke","#000").attr("stroke-width",2);
// map axes
const axB=d3.axisBottom(x).tickValues(lonTicks).tickSize(0).tickFormat(d=>d+"°E");
const gb=svg.append("g").attr("transform",`translate(0,${plot.b+10.5})`).call(axB);
gb.select(".domain").remove();
gb.selectAll("text").attr("font-size",20.8).attr("fill","#555").attr("font-family","DejaVu Sans");
const axL=d3.axisLeft(y).tickValues(latTicks).tickSize(0).tickFormat(d=>(-d)+"°S");
const gl=svg.append("g").attr("transform",`translate(${plot.l-12},-1)`).call(axL);
gl.select(".domain").remove();
gl.selectAll("text").attr("font-size",20.8).attr("fill","#555").attr("font-family","DejaVu Sans");
// colour bar
const cbx=plot.r,cbw=50.4;
svg.append("g").selectAll("rect").data(bandColors).join("rect").attr("x",cbx).attr("width",cbw)
 .attr("y",(d,i)=>cb(levels[i+1])).attr("height",(d,i)=>cb(levels[i])-cb(levels[i+1])).attr("fill",d=>d);
svg.append("rect").attr("x",cbx).attr("y",plot.t).attr("width",cbw).attr("height",plot.b-plot.t).attr("fill","none").attr("stroke","#000").attr("stroke-width",2);
const axC=d3.axisRight(cb).tickValues(levels).tickSize(9.5).tickPadding(10).tickFormat(d=>d===1044?"1044+":d===1000?"1000−":d);
const gc=svg.append("g").attr("transform",`translate(${cbx+cbw},0)`).call(axC);
gc.select(".domain").remove();
gc.selectAll("line").attr("stroke","#000").attr("stroke-width",1.6);
gc.selectAll("text").attr("font-size",21).attr("fill","#000").attr("font-family","DejaVu Sans");
svg.append("text").attr("transform","translate(2069,823) rotate(-90)").attr("text-anchor","middle").attr("dominant-baseline","central").attr("font-size",25).text("Mean Sea Level Pressure (mb)");
// titles & footer
svg.append("text").attr("x",plot.l).attr("y",33).attr("dominant-baseline","central").attr("font-size",30.5).attr("font-weight","bold").text("Mean Sea Level Pressure (mb)");
svg.append("text").attr("x",plot.l).attr("y",70).attr("dominant-baseline","central").attr("font-size",25).attr("font-weight","bold").text("2026-07-06 00:00");
svg.append("text").attr("x",plot.l).attr("y",1555).attr("dominant-baseline","central").attr("font-size",19.5).attr("fill","#888").text("Data: CORe Reanalysis  ·  NCEP/CPC").attr("xml:space","preserve").style("white-space","pre");
svg.append("text").attr("x",plot.r).attr("y",1560).attr("text-anchor","end").attr("dominant-baseline","central").attr("font-size",30.5).attr("font-weight","bold").attr("fill","#555").text("PyReWeather.org");
</script></body></html>
